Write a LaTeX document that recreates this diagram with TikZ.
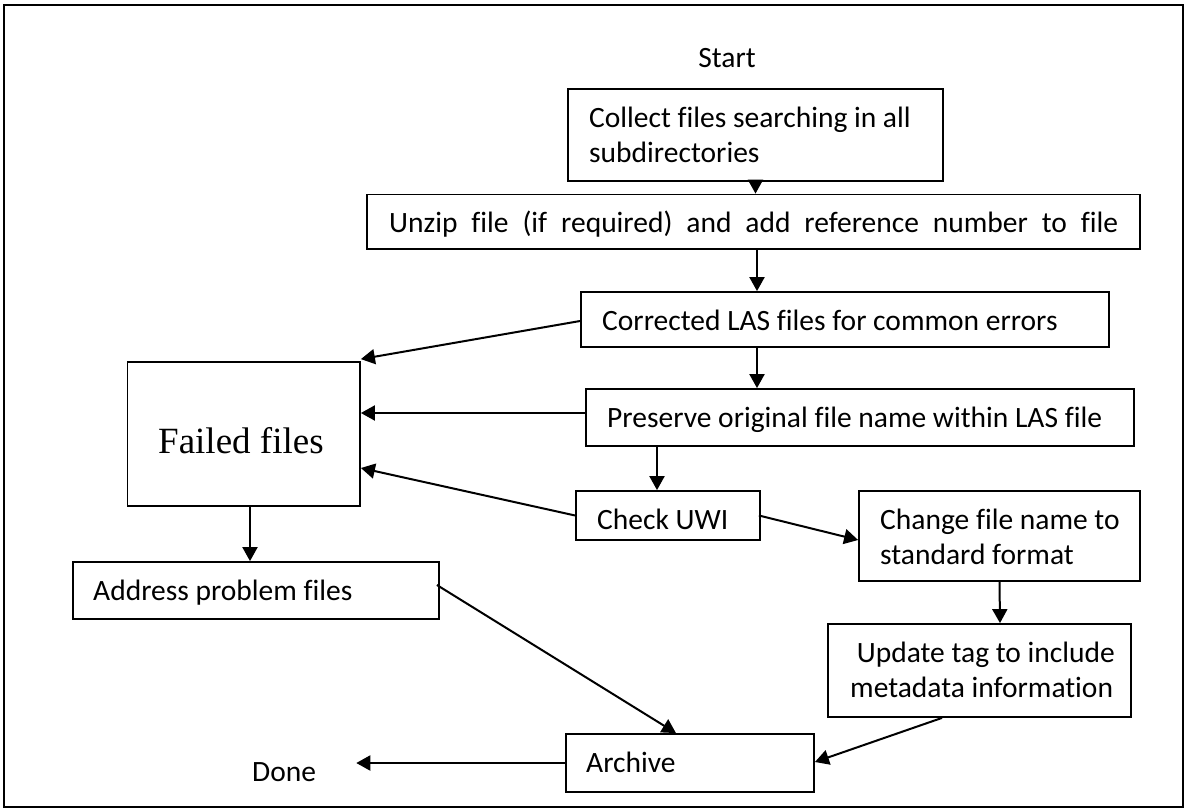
\documentclass[tikz,border=0pt]{standalone}
\usepackage{fontspec}
\setmainfont{Carlito}[Ligatures=NoCommon]
\newfontfamily\timesfont{Liberation Serif}
\usetikzlibrary{arrows.meta}
\newcommand{\twolines}[2]{\begin{tabular}[t]{@{}l@{}}#1\\#2\end{tabular}}
\begin{document}
\begin{tikzpicture}[x=1pt,y=-1pt,
  box/.style={draw,line width=1.8pt,inner sep=0pt},
  lbl/.style={font=\fontsize{29.5}{35}\selectfont,inner sep=0pt,anchor=base west},
  arr/.style={line width=2pt,-{Triangle[length=14pt,width=15pt]}}]
\useasboundingbox (0,0) rectangle (1188,811);
\draw[line width=2.6pt] (4,5) rectangle (1183,807);
% boxes
\node[box,minimum width=375pt,minimum height=92pt] (collect) at (755.5,135) {};
\node[box,minimum width=773pt,minimum height=54.5pt] (unzip) at (753.5,221.75) {};
\node[box,minimum width=528pt,minimum height=55pt] (corr) at (845,319.5) {};
\node[box,minimum width=548pt,minimum height=57pt] (pres) at (860,417.5) {};
\node[box,minimum width=232.5pt,minimum height=144pt] (failed) at (243.75,434) {};
\node[box,minimum width=184pt,minimum height=49pt] (check) at (668,515.5) {};
\node[box,minimum width=281pt,minimum height=90pt] (change) at (999.5,536) {};
\node[box,minimum width=303pt,minimum height=93pt] (update) at (979.5,670.5) {};
\node[box,minimum width=366pt,minimum height=57pt] (address) at (256,590.5) {};
\node[box,minimum width=248pt,minimum height=58pt] (archive) at (690,763) {};
% texts
\node[lbl,anchor=base] (start) at (727,67) {Start};
\node[lbl] (tcollect) at (589,127) {\twolines{Collect files searching in all}{subdirectories}};
\node[lbl] (tunzip) at (389,232) {\makebox[729pt][s]{Unzip file (if required) and add reference number to file}};
\node[lbl] (tcorr) at (602,330) {Corrected LAS files for common errors};
\node[lbl] (tpres) at (607,427) {Preserve original file name within LAS file};
\node[lbl,font=\timesfont\fontsize{37}{42}\selectfont] (tfailed) at (158,453) {Failed files};
\node[lbl] (tcheck) at (597,529) {Check UWI};
\node[lbl] (tchange) at (880,529) {\twolines{Change file name to}{standard format}};
\node[lbl] (tupdate) at (850,662) {\twolines{\hspace{6.7pt}Update tag to include}{metadata information}};
\node[lbl] (taddress) at (93,600) {Address problem files};
\node[lbl] (tarchive) at (586,772) {Archive};
\node[lbl] (done) at (252,781) {Done};
% connectors
\draw[arr] (collect.south) -- (unzip.north -| collect.south);
\draw[arr] ([xshift=3.5pt]unzip.south) -- ([xshift=-88pt]corr.north);
\draw[arr] ([xshift=-88pt]corr.south) -- ([xshift=-103pt]pres.north);
\draw[arr] ([yshift=-1.5pt]corr.west) -- ([yshift=2pt]failed.north east);
\draw[arr] ([yshift=4.5pt]pres.west) -- ([yshift=21pt]failed.east);
\draw[arr] ([xshift=-203pt]pres.south) -- ([xshift=-11pt]check.north);
\draw[arr] (check.west) -- ([yshift=-34pt]failed.east);
\draw[arr] ([xshift=-2pt]check.east) -- ([yshift=-4pt]change.west);
\draw[arr] (change.south) -- ([xshift=20.5pt]update.north);
\draw[arr] ([xshift=-37.5pt]update.south) -- ([yshift=1pt]archive.east);
\draw[arr] ([xshift=6.25pt]failed.south) -- ([xshift=-6pt]address.north);
\draw[arr] ([xshift=-3pt,yshift=5.5pt]address.east) -- ([xshift=-14pt]archive.north);
\draw[arr] (archive.west) -- ([xshift=40pt]done.east |- archive.west);
\end{tikzpicture}
\end{document}
